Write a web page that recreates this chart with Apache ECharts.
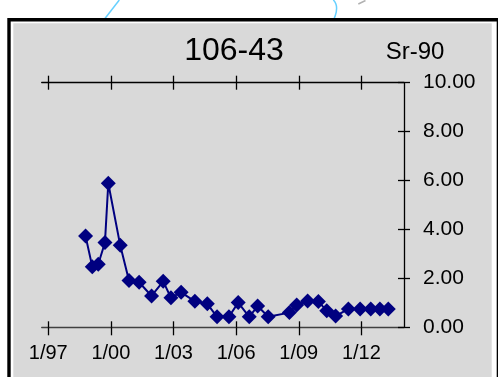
<!DOCTYPE html>
<html>
<head>
<meta charset="utf-8">
<script src="https://cdn.jsdelivr.net/npm/echarts@6/dist/echarts.min.js"></script>
<style>
html,body{margin:0;padding:0;background:#fff;}
#c{width:498px;height:377px;}
</style>
</head>
<body>
<div id="c"></div>
<script>
// ---- data ----
const sampleDates = [
  '1998-10-15','1999-02-10','1999-05-25','1999-09-20','1999-11-17','2000-06-13',
  '2000-11-13','2001-05-10','2001-12-13','2002-07-05','2002-11-17','2003-05-15',
  '2004-01-10','2004-08-15','2005-02-01','2005-08-28','2006-02-06','2006-08-18',
  '2007-01-12','2007-07-16','2008-07-20','2008-11-25','2009-06-05','2009-12-10',
  '2010-05-05','2010-10-08','2011-05-19','2011-12-10','2012-06-13','2012-11-20',
  '2013-04-16'
];
const sr90Values = [
  3.73, 2.48, 2.58, 3.47, 5.89, 3.35,
  1.91, 1.84, 1.28, 1.88, 1.21, 1.43,
  1.06, 0.96, 0.43, 0.43, 1.01, 0.43,
  0.87, 0.43, 0.60, 0.91, 1.08, 1.05,
  0.68, 0.46, 0.75, 0.75, 0.75, 0.75,
  0.75
];
const xTickDates = ['1997-01-01','2000-01-01','2003-01-01','2006-01-01','2009-01-01','2012-01-01'];
const xRange = ['1996-09-08','2014-01-16'];
const yTicks = [0, 2, 4, 6, 8, 10];
const chartTitle = '106-43';
const analyte = 'Sr-90';

function toMs(s){ const p = s.split('-').map(Number); return Date.UTC(p[0], p[1]-1, p[2]); }
const tickMs = xTickDates.map(toMs);
const xMin = toMs(xRange[0]), xMax = toMs(xRange[1]);
const seriesData = sampleDates.map((d,i)=>[toMs(d), sr90Values[i]]);
function fmtX(v){ const d = new Date(v); return (d.getUTCMonth()+1) + '/' + String(d.getUTCFullYear()).slice(2); }

const FONT = '"Liberation Sans", Arial, sans-serif';
const chart = echarts.init(document.getElementById('c'), null, {renderer:'canvas'});

function xAx(pos, inside, len, showLine, showLabel, lineColor){
  return {
    type:'value', position:pos, min:xMin, max:xMax,
    axisLine:{show:showLine, onZero:false, lineStyle:{color:lineColor||'#000', width:1.3}},
    axisTick:{show:true, inside:inside, length:len, customValues:tickMs, lineStyle:{color:'#000', width:1.3}},
    axisLabel:{show:showLabel, customValues:tickMs, formatter:fmtX, fontSize:20, fontFamily:FONT, color:'#000', margin:16},
    splitLine:{show:false}, minorTick:{show:false}
  };
}
function yAx(inside, showLabel, showLine){
  return {
    type:'value', position:'right', min:yTicks[0], max:yTicks[yTicks.length-1], interval:yTicks[1]-yTicks[0],
    axisLine:{show:showLine, lineStyle:{color:'#000', width:1.3}},
    axisTick:{show:true, inside:inside, length:6, lineStyle:{color:'#000', width:1.3}},
    axisLabel:{show:showLabel, formatter:v=>v.toFixed(2), fontSize:21, fontFamily:FONT, color:'#000', margin:19},
    splitLine:{show:false}
  };
}

chart.setOption({
  animation:false,
  backgroundColor:'#fff',
  grid:{left:41.7, right:94, top:82.7, bottom:49.7, containLabel:false},
  xAxis:[
    xAx('bottom', false, 8, true, true, '#404040'),
    xAx('bottom', true, 6, false, false),
    xAx('top', false, 7, true, false, '#000'),
    xAx('top', true, 7, false, false)
  ],
  yAxis:[ yAx(false, true, true), yAx(true, false, false) ],
  graphic:[
    {type:'line', z:-10, silent:true, shape:{x1:100.7,y1:24,x2:119.3,y2:0}, style:{stroke:'#66d0ff', lineWidth:1.5}},
    {type:'bezierCurve', z:-10, silent:true, shape:{x1:331.7,y1:24,cpx1:338,cpy1:12,cpx2:337.5,cpy2:4,x2:333.3,y2:0}, style:{stroke:'#66d0ff', lineWidth:1.5, fill:null}},
    {type:'line', z:-10, silent:true, shape:{x1:358.3,y1:4,x2:365.5,y2:0.5}, style:{stroke:'#b0b0b0', lineWidth:1.5}},
    {type:'rect', z:-9, silent:true, shape:{x:9,y:19.8,width:489.4,height:420}, style:{fill:'#fff', stroke:'#000', lineWidth:3.4}},
    {type:'rect', z:-8, silent:true, shape:{x:13.3,y:23.3,width:478.4,height:420}, style:{fill:'#d9d9d9'}},
    {type:'text', z:5, silent:true, x:234, y:51, style:{text:chartTitle, font:'32px '+FONT, fill:'#000', textAlign:'center', textVerticalAlign:'middle'}},
    {type:'text', z:5, silent:true, x:415, y:52, style:{text:analyte, font:'24px '+FONT, fill:'#000', textAlign:'center', textVerticalAlign:'middle'}}
  ],
  series:[{
    type:'line', xAxisIndex:0, yAxisIndex:0, data:seriesData,
    symbol:'diamond', symbolSize:15, showAllSymbol:true,
    itemStyle:{color:'#000080'}, lineStyle:{color:'#000080', width:2}
  }]
});
</script>
</body>
</html>
